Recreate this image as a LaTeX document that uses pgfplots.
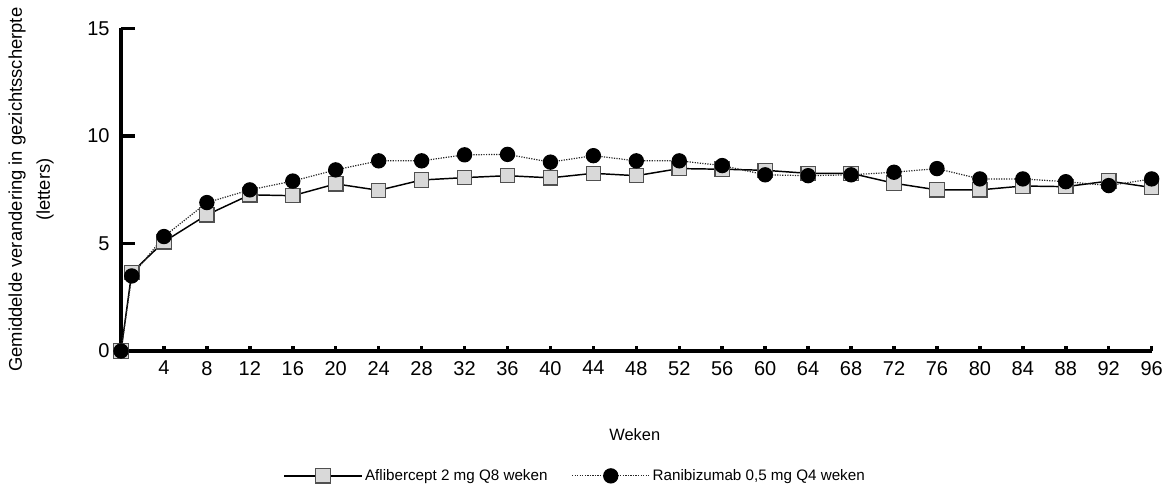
\documentclass[border=0pt]{standalone}
\usepackage{pgfplots}
\pgfplotsset{compat=1.18}
\usepackage{fontspec}
\setmainfont{Liberation Sans}

\definecolor{sqfill}{HTML}{D9D9D9}
\definecolor{sqedge}{HTML}{505050}

\begin{document}
\begin{tikzpicture}
\useasboundingbox (-90.75pt,-101.25pt) rectangle (785.25pt,263.25pt);
\begin{axis}[
    at={(0pt,0pt)}, anchor=south west,
    scale only axis,
    width=773pt, height=242pt,
    xmin=0, xmax=96,
    ymin=0, ymax=15,
    axis lines*=left,
    axis line style={line width=2.6pt},
    clip=false,
    xtick={4,8,...,96},
    ytick={0,5,10,15},
    tick align=inside,
    tick style={line width=2.6pt, black},
    xtick style={/pgfplots/major tick length=4pt},
    ytick style={/pgfplots/major tick length=10.5pt},
    /pgf/number format/assume math mode=true,
    ticklabel style={font=\fontsize{15}{18}\selectfont},
    xticklabel style={yshift=-4pt},
    yticklabel style={xshift=-5pt},
    xlabel={Weken},
    xlabel style={font=\fontsize{12.3}{15}\selectfont, at={(axis description cs:0.4985,-0.26)}, anchor=center},
    ylabel={Gemiddelde verandering in gezichtsscherpte\\(letters)},
    ylabel style={font=\fontsize{13.8}{21}\selectfont, align=center, at={(axis description cs:-0.0873,0.5)}, anchor=center},
    legend columns=2,
    legend style={draw=none, font=\fontsize{11.4}{14}\selectfont,
        at={(axis description cs:0.441,-0.387)}, anchor=center,
        /tikz/every even column/.append style={column sep=16pt}},
    legend image code/.code={\draw[mark repeat=2,mark phase=2,#1] plot coordinates {(0pt,0pt) (29pt,0pt) (58pt,0pt)};},
]
\addplot[black, line width=1.1pt, mark=square*, mark size=5.4pt,
    mark options={fill=sqfill, draw=sqedge, line width=0.9pt, solid}]
coordinates {
(0,0) (1,3.65) (4,5.08) (8,6.33) (12,7.26) (16,7.22) (20,7.77) (24,7.47)
(28,7.95) (32,8.06) (36,8.15) (40,8.05) (44,8.26) (48,8.15) (52,8.48)
(56,8.45) (60,8.40) (64,8.26) (68,8.26) (72,7.80) (76,7.49) (80,7.49)
(84,7.67) (88,7.64) (92,7.90) (96,7.60)
};
\addlegendentry{Aflibercept 2 mg Q8 weken}
\addplot[black!85, line width=0.9pt, densely dotted, mark=*, mark size=5.3pt,
    mark options={fill=black, draw=black, solid}]
coordinates {
(0,0) (1,3.49) (4,5.32) (8,6.90) (12,7.49) (16,7.90) (20,8.42) (24,8.84)
(28,8.84) (32,9.12) (36,9.14) (40,8.78) (44,9.08) (48,8.84) (52,8.84)
(56,8.62) (60,8.19) (64,8.15) (68,8.19) (72,8.31) (76,8.48) (80,8.00)
(84,8.00) (88,7.87) (92,7.69) (96,8.00)
};
\addlegendentry{Ranibizumab 0,5 mg Q4 weken}
\end{axis}
\end{tikzpicture}
\end{document}
